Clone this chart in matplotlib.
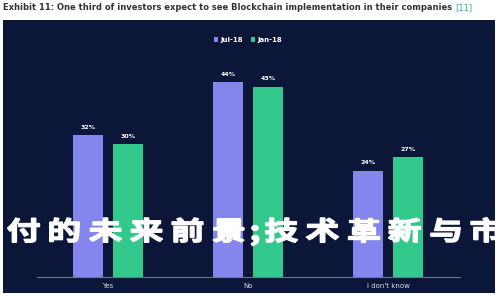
import matplotlib
matplotlib.use('Agg')
import matplotlib.pyplot as plt
from matplotlib.patches import Rectangle, PathPatch
from matplotlib.textpath import TextPath
from matplotlib.font_manager import FontProperties
from matplotlib.transforms import Affine2D
import numpy as np

categories = ['Yes', 'No', "I don't know"]
jul18 = [32, 44, 24]
jan18 = [30, 43, 27]
series_names = ['Jul-18', 'Jan-18']

title = 'Exhibit 11: One third of investors expect to see Blockchain implementation in their companies'
ref = '[11]'
overlay = '付的未来前景;技术革新与市'

bg = '#0b1638'
purple = '#8585ee'
green = '#34c98c'

fig = plt.figure(figsize=(5, 3), dpi=100)
fig.patch.set_facecolor('white')

# dark panel behind the chart
panel = Rectangle((0.006, 0.023), 0.984, 0.91, transform=fig.transFigure,
                  facecolor=bg, edgecolor='none', zorder=-5)
fig.patches.append(panel)

t = fig.text(0.006, 0.975, title, fontsize=6.0, fontweight='bold', color='#333333',
             va='center', ha='left')
fig.canvas.draw()
bb = t.get_window_extent()
fig.text(bb.x1 / fig.bbox.width + 0.006, 0.975, ref, fontsize=6.0, color='#2ab0a0',
         va='center', ha='left')

ax = fig.add_axes([0.074, 0.0767, 0.846, 0.72])
ax.set_facecolor('none')
x = np.arange(len(categories))
w = 0.22
b1 = ax.bar(x - 0.143, jul18, w, color=purple, label=series_names[0])
b2 = ax.bar(x + 0.143, jan18, w, color=green, label=series_names[1])
for bars, vals in ((b1, jul18), (b2, jan18)):
    for r, v in zip(bars, vals):
        ax.text(r.get_x() + r.get_width() / 2, v + 1.2, f'{v}%', ha='center', va='bottom',
                fontsize=4.5, color='white', fontweight='bold')

ax.set_xlim(-0.507, 2.514)
ax.set_ylim(0, 48.8)
ax.set_xticks(x)
ax.set_xticklabels(categories, fontsize=5, color='#dddddd')
ax.tick_params(axis='x', length=0, pad=4)
ax.set_yticks([])
for s in ['top', 'right', 'left']:
    ax.spines[s].set_visible(False)
ax.spines['bottom'].set_color('#6a7590')
ax.spines['bottom'].set_linewidth(0.8)

leg = fig.legend(loc='center', bbox_to_anchor=(0.496, 0.867), ncol=2, frameon=False,
                 fontsize=5, handlelength=0.6, handleheight=0.6, columnspacing=1.2,
                 handletextpad=0.3)
for txt in leg.get_texts():
    txt.set_color('white')
    txt.set_fontweight('bold')

# squat overlay text, one glyph per cell, drawn as paths
fp = FontProperties(family='Noto Sans CJK SC', weight='bold')
cell, narrow = 41, 12  # px advance for a CJK char / for the semicolon
sx, sy = 34 / 500, 26 / 300
cx = 3
for ch in overlay:
    adv = narrow if ch == ';' else cell
    tp = TextPath((0, 0), ch, size=1, prop=fp)
    ext = tp.get_extents()
    gx = cx / 500 + (adv / 500 - ext.width * sx) / 2 - ext.x0 * sx
    tr = Affine2D().scale(sx, sy).translate(gx, 0.2) + fig.transFigure
    fig.patches.append(PathPatch(tp, transform=tr, facecolor='white', edgecolor='white',
                                 linewidth=1.0, zorder=10))
    cx += adv

fig.savefig('out.png', dpi=100)
